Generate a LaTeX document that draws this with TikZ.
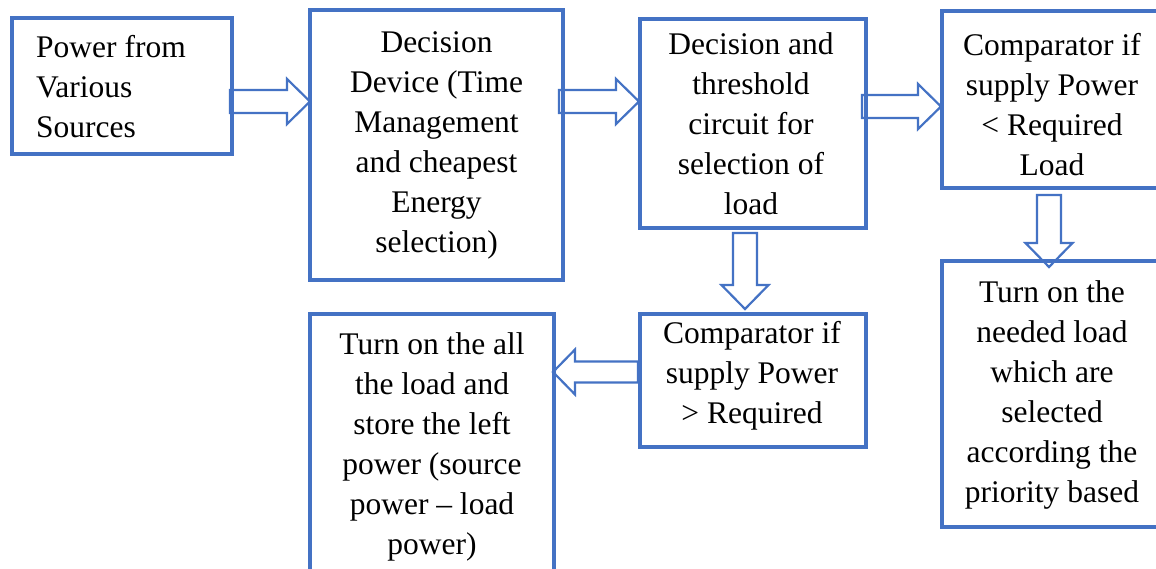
\documentclass[tikz,border=0pt]{standalone}
\usepackage{fontspec}
\setmainfont{Liberation Serif}
\usetikzlibrary{calc,backgrounds}
\definecolor{boxblue}{HTML}{4472C4}
\newcommand\rarrow[2]{\draw[barrow] let \p1=(#1), \p2=(#2) in (\x1,\y1+11.5pt) -- (\x2-23pt,\y1+11.5pt) -- (\x2-23pt,\y1+22.5pt) -- (\x2,\y1) -- (\x2-23pt,\y1-22.5pt) -- (\x2-23pt,\y1-11.5pt) -- (\x1,\y1-11.5pt) -- cycle;}
\newcommand\larrow[2]{\draw[barrow] let \p1=(#1), \p2=(#2) in (\x1,\y1+10.5pt) -- (\x2+22pt,\y1+10.5pt) -- (\x2+22pt,\y1+22.5pt) -- (\x2,\y1) -- (\x2+22pt,\y1-22.5pt) -- (\x2+22pt,\y1-10.5pt) -- (\x1,\y1-10.5pt) -- cycle;}
\newcommand\darrow[2]{\draw[barrow] let \p1=(#1), \p2=(#2) in (\x1-12pt,\y1) -- (\x1-12pt,\y2+24pt) -- (\x1-23.5pt,\y2+24pt) -- (\x1,\y2) -- (\x1+23.5pt,\y2+24pt) -- (\x1+12pt,\y2+24pt) -- (\x1+12pt,\y1) -- cycle;}
\begin{document}
\begin{tikzpicture}[x=1pt,y=-1pt,
  boxnode/.style={draw=boxblue, line width=3.2pt, rectangle, inner sep=0pt, outer sep=0pt, anchor=north west},
  txt/.style={font=\fontsize{31.5pt}{40pt}\selectfont, align=center, inner sep=0pt},
  barrow/.style={draw=boxblue, line width=2.2pt, fill=white, line join=miter}]
\clip (0,0) rectangle (1156,568);
% boxes
\node[boxnode, minimum width=220pt, minimum height=136pt] (b1) at (12,18) {};
\node[boxnode, minimum width=253pt, minimum height=270pt] (b2) at (310,10) {};
\node[boxnode, minimum width=226pt, minimum height=209pt] (b3) at (640,19) {};
\node[boxnode, minimum width=222pt, minimum height=177pt] (b4) at (942,11) {};
\node[boxnode, minimum width=222pt, minimum height=266pt] (b5) at (942,261) {};
\node[boxnode, minimum width=226pt, minimum height=133pt] (b6) at (640,314) {};
\node[boxnode, minimum width=244pt, minimum height=266pt] (b7) at (310,314) {};
% texts
\node[txt, align=left, anchor=west] (t1) at (36,86.5) {Power from\\Various\\Sources};
\node[txt] (t2) at (436.5,145) {Decision\\Device (Time\\Management\\and cheapest\\Energy\\selection)};
\node[txt] (t3) at (751,124) {Decision and\\threshold\\circuit for\\selection of\\load};
\node[txt] (t4) at (1052,105) {Comparator if\\supply Power\\\textless{} Required\\Load};
\node[txt] (t5) at (1052,395) {Turn on the\\needed load\\which are\\selected\\according the\\priority based};
\node[txt] (t6) at (752,376) {Comparator if\\supply Power\\\textgreater{} Required};
\node[txt] (t7) at (432,447) {Turn on the all\\the load and\\store the left\\power (source\\power – load\\power)};
% arrow end points
\coordinate (a1s) at ($(b1.east)+(-2,15.5)$);
\coordinate (a1e) at (b2.west |- a1s);
\coordinate (a2s) at ($(b2.east)+(-4,-43.5)$);
\coordinate (a2e) at ($(b3.west |- a2s)+(-1,0)$);
\coordinate (a3s) at ($(b3.east)+(-4,-17)$);
\coordinate (a3e) at ($(b4.west |- a3s)+(-1,0)$);
\coordinate (a4s) at ($(b4.south)+(-4,7)$);
\coordinate (a4e) at ($(b5.north)+(-4,6)$);
\coordinate (a5s) at ($(b3.south)+(-8,5)$);
\coordinate (a5e) at ($(b6.north)+(-8,-5)$);
\coordinate (a6s) at ($(b6.west)+(-2,-8.5)$);
\coordinate (a6e) at ($(b7.east |- a6s)+(-1,0)$);
\begin{pgfonlayer}{background}
\fill[white] (0,0) rectangle (1156,568);
\rarrow{a1s}{a1e}
\rarrow{a2s}{a2e}
\rarrow{a3s}{a3e}
\darrow{a4s}{a4e}
\darrow{a5s}{a5e}
\larrow{a6s}{a6e}
\end{pgfonlayer}
\end{tikzpicture}
\end{document}
